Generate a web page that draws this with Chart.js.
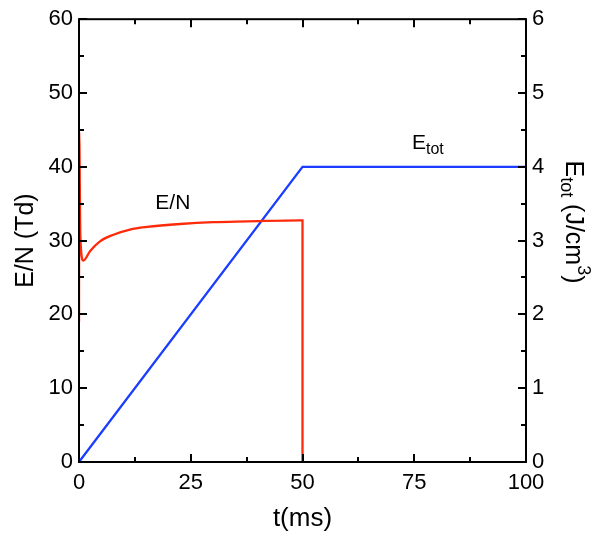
<!DOCTYPE html>
<html>
<head>
<meta charset="utf-8">
<script src="https://cdn.jsdelivr.net/npm/chart.js@4.4.1/dist/chart.umd.min.js"></script>
<style>
  html, body { margin: 0; padding: 0; background: #fff; }
  #wrap { width: 600px; height: 535px; }
</style>
</head>
<body>
<div id="wrap"><canvas id="chart" width="600" height="535"></canvas></div>
<script>
// E/N (Td) vs time (ms)
const enTime = [0, 0.05, 0.3, 0.96, 2.5, 4.7, 7.7, 11.4, 15.2, 22.6, 30.1, 37.6, 49.5, 50, 50];
const enValue = [19, 44.7, 30.5, 27.3, 28.6, 29.9, 30.8, 31.5, 31.85, 32.25, 32.5, 32.6, 32.75, 32.75, 0];

// E_tot (J/cm3) vs time (ms)
const etotTime = [0, 50, 100];
const etotValue = [0, 4.0, 4.0];

const xTicks = [0, 25, 50, 75, 100];
const leftTicks = [0, 10, 20, 30, 40, 50, 60];
const rightTicks = [0, 1, 2, 3, 4, 5, 6];

const FONT = 'Liberation Sans, Arial, Helvetica, sans-serif';
const RED = '#ff2a0a';
const BLUE = '#1a3dff';

const toXY = (xs, ys) => xs.map((x, i) => ({ x: x, y: ys[i] }));

// inward ticks, frame and text labels
const decor = {
  id: 'decor',
  afterDraw(chart) {
    const ctx = chart.ctx;
    const a = chart.chartArea;
    const sx = chart.scales.x, sl = chart.scales.yL, sr = chart.scales.yR;
    ctx.save();
    ctx.strokeStyle = '#000';
    ctx.lineWidth = 2;
    ctx.beginPath();
    for (let v = 0; v <= 100; v += 12.5) {
      const px = Math.round(sx.getPixelForValue(v));
      const len = v % 25 === 0 ? 8 : 5;
      ctx.moveTo(px, a.bottom); ctx.lineTo(px, a.bottom - len);
      ctx.moveTo(px, a.top); ctx.lineTo(px, a.top + len);
    }
    for (let v = 0; v <= 60; v += 5) {
      const py = Math.round(sl.getPixelForValue(v));
      const len = v % 10 === 0 ? 8 : 5;
      ctx.moveTo(a.left, py); ctx.lineTo(a.left + len, py);
    }
    for (let v = 0; v <= 6; v += 0.5) {
      const py = Math.round(sr.getPixelForValue(v));
      const len = v % 1 === 0 ? 8 : 5;
      ctx.moveTo(a.right, py); ctx.lineTo(a.right - len, py);
    }
    ctx.stroke();
    ctx.strokeRect(a.left, a.top, a.right - a.left, a.bottom - a.top);

    // curve labels
    ctx.fillStyle = '#000';
    ctx.textBaseline = 'alphabetic';
    ctx.font = '21px ' + FONT;
    ctx.textAlign = 'center';
    ctx.fillText('E/N', sx.getPixelForValue(21), sl.getPixelForValue(34.3));
    ctx.textAlign = 'left';
    let ex = sx.getPixelForValue(74.5), ey = sl.getPixelForValue(42.4);
    ctx.fillText('E', ex, ey);
    ex += ctx.measureText('E').width;
    ctx.font = '16px ' + FONT;
    ctx.fillText('tot', ex, ey + 5);

    // right axis title, rotated
    ctx.translate(573, 222);
    ctx.rotate(Math.PI / 2);
    const parts = [
      ['E', '25px', 0], ['tot', '18px', 7], [' (J/cm', '25px', 0], ['3', '18px', -10], [')', '25px', 0]
    ];
    let w = 0;
    parts.forEach(p => { ctx.font = p[1] + ' ' + FONT; w += ctx.measureText(p[0]).width; });
    let cx = -w / 2;
    ctx.textBaseline = 'middle';
    parts.forEach(p => {
      ctx.font = p[1] + ' ' + FONT;
      ctx.fillText(p[0], cx, p[2]);
      cx += ctx.measureText(p[0]).width;
    });
    ctx.restore();
  }
};

new Chart(document.getElementById('chart'), {
  type: 'scatter',
  data: {
    datasets: [
      {
        label: 'E/N',
        data: toXY(enTime, enValue),
        yAxisID: 'yL',
        showLine: true,
        borderColor: RED,
        borderWidth: 2.3,
        pointRadius: 0,
        cubicInterpolationMode: 'monotone'
      },
      {
        label: 'Etot',
        data: toXY(etotTime, etotValue),
        yAxisID: 'yR',
        showLine: true,
        borderColor: BLUE,
        borderWidth: 2.3,
        pointRadius: 0
      }
    ]
  },
  options: {
    responsive: false,
    animation: false,
    layout: { padding: { top: 17, left: 0, right: 0, bottom: 0 } },
    plugins: { legend: { display: false }, tooltip: { enabled: false } },
    scales: {
      x: {
        type: 'linear', min: 0, max: 100,
        afterFit: s => { s.height = 73; },
        afterBuildTicks: s => { s.ticks = xTicks.map(v => ({ value: v })); },
        grid: { display: false, drawTicks: false },
        border: { display: false },
        ticks: { color: '#000', padding: 8, font: { family: FONT, size: 22 } },
        title: { display: true, text: 't(ms)', color: '#000', padding: { top: 0, bottom: 1 }, font: { family: FONT, size: 26 } }
      },
      yL: {
        type: 'linear', position: 'left', min: 0, max: 60,
        afterFit: s => { s.width = 79; },
        afterBuildTicks: s => { s.ticks = leftTicks.map(v => ({ value: v })); },
        grid: { display: false, drawTicks: false },
        border: { display: false },
        ticks: { color: '#000', padding: 6, font: { family: FONT, size: 22 } },
        title: { display: true, text: 'E/N (Td)', color: '#000', padding: { top: 11, bottom: 0 }, font: { family: FONT, size: 25 } }
      },
      yR: {
        type: 'linear', position: 'right', min: 0, max: 6,
        afterFit: s => { s.width = 74; },
        afterBuildTicks: s => { s.ticks = rightTicks.map(v => ({ value: v })); },
        grid: { display: false, drawTicks: false },
        border: { display: false },
        ticks: { color: '#000', padding: 6, font: { family: FONT, size: 22 } }
      }
    }
  },
  plugins: [decor]
});
</script>
</body>
</html>
